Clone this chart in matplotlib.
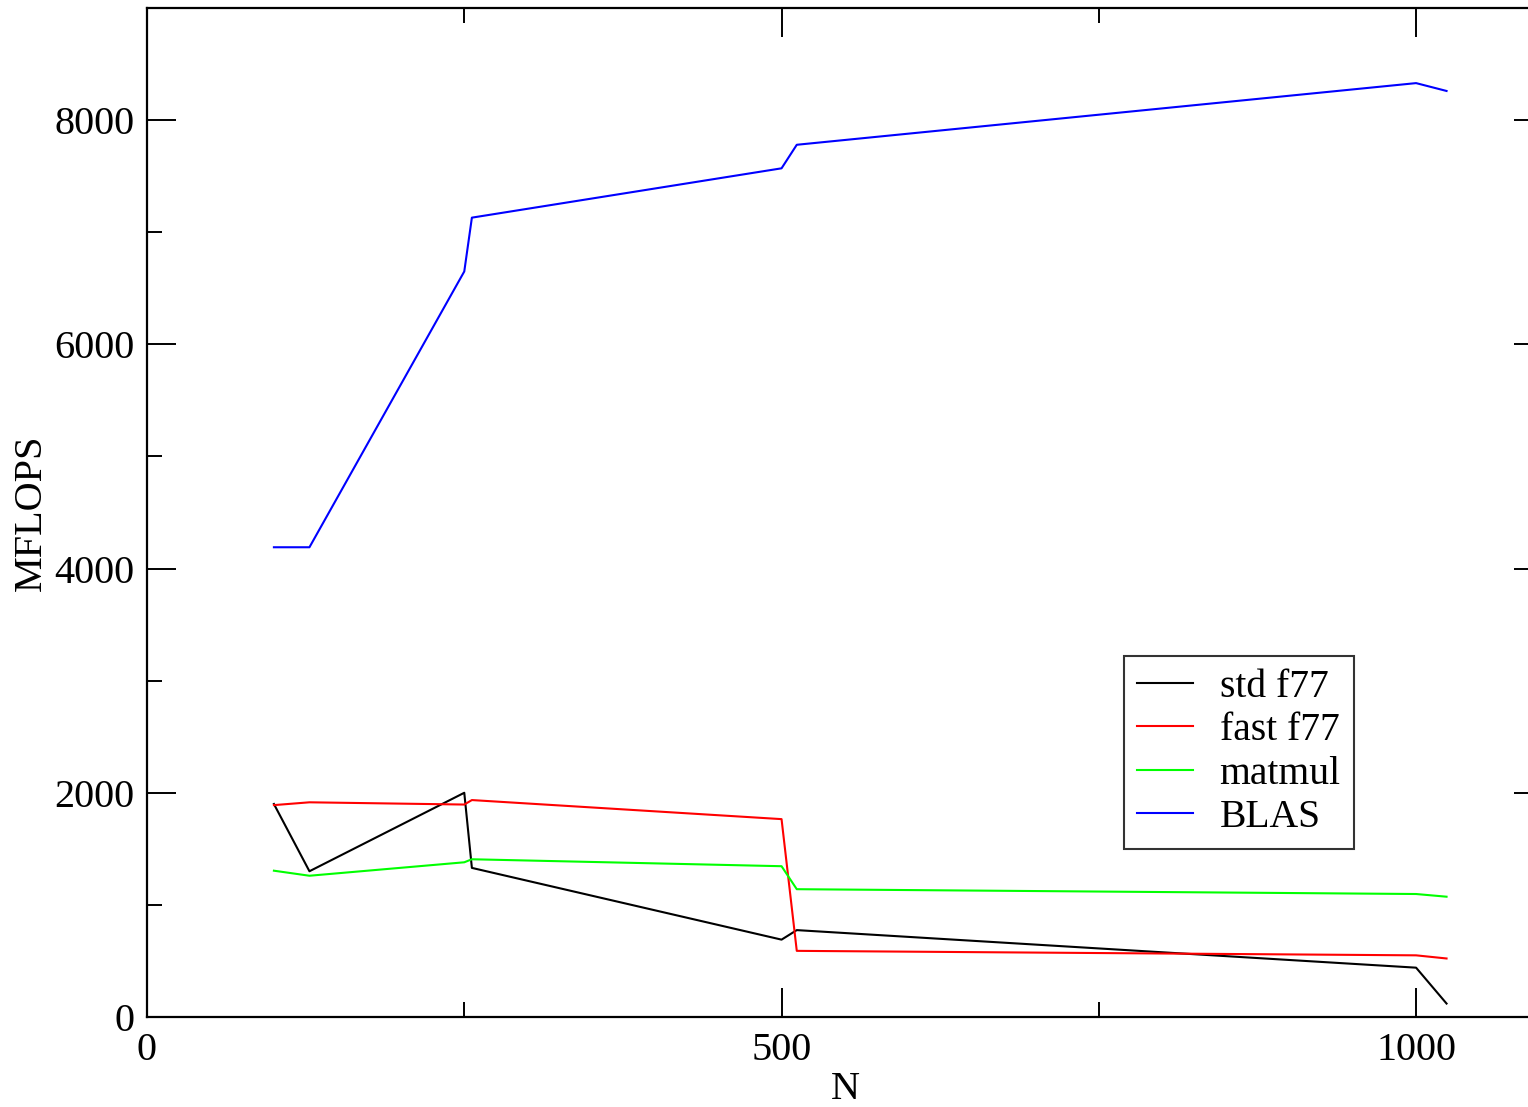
import matplotlib
matplotlib.use("Agg")
import matplotlib.pyplot as plt
from matplotlib.ticker import MultipleLocator

# Data
n_values = [100, 128, 250, 256, 500, 512, 1000, 1024]
std_f77 = [1900, 1300, 2000, 1330, 690, 775, 440, 120]
fast_f77 = [1890, 1915, 1895, 1935, 1765, 590, 550, 522]
matmul = [1305, 1260, 1380, 1407, 1345, 1140, 1097, 1073]
blas = [4190, 4190, 6650, 7130, 7570, 7780, 8330, 8260]

series_names = ["std f77", "fast f77", "matmul", "BLAS"]
series_colors = ["#000000", "#ff0000", "#00ff00", "#0000ff"]

plt.rcParams['font.family'] = ['Liberation Serif', 'DejaVu Serif']

W, H = 1528, 1107
fig = plt.figure(figsize=(W / 100, H / 100), dpi=100)
left, right, top, bottom = 147, 1543, 8, 1017
ax = fig.add_axes([left / W, 1 - bottom / H, (right - left) / W, (bottom - top) / H])

for name, vals, c in zip(series_names, [std_f77, fast_f77, matmul, blas], series_colors):
    ax.plot(n_values, vals, color=c, lw=1.5, label=name)

ax.set_xlim(0, 1100)
ax.set_ylim(0, 9000)
ax.xaxis.set_major_locator(MultipleLocator(500))
ax.xaxis.set_minor_locator(MultipleLocator(250))
ax.yaxis.set_major_locator(MultipleLocator(2000))
ax.yaxis.set_minor_locator(MultipleLocator(1000))

for s in ax.spines.values():
    s.set_linewidth(1.6)

ax.tick_params(which='both', direction='in', top=True, right=True, width=1.4, labelsize=29)
ax.tick_params(which='major', length=21)
ax.tick_params(which='minor', length=11)
ax.tick_params(axis='x', pad=11)
ax.tick_params(axis='y', pad=9)

ax.set_xlabel("N", fontsize=29, labelpad=1)
ax.set_ylabel("MFLOPS", fontsize=29, labelpad=3)

leg = ax.legend(loc='upper left', bbox_to_anchor=(0.70, 0.358), borderaxespad=0,
                fontsize=28.5, frameon=True, fancybox=False, shadow=False,
                handlelength=1.42, handletextpad=0.66, labelspacing=0.16,
                borderpad=0.33)
leg.get_frame().set_edgecolor('black')
leg.get_frame().set_linewidth(1.5)
for l in leg.get_lines():
    l.set_linewidth(1.5)

fig.savefig("out.png", dpi=100)
